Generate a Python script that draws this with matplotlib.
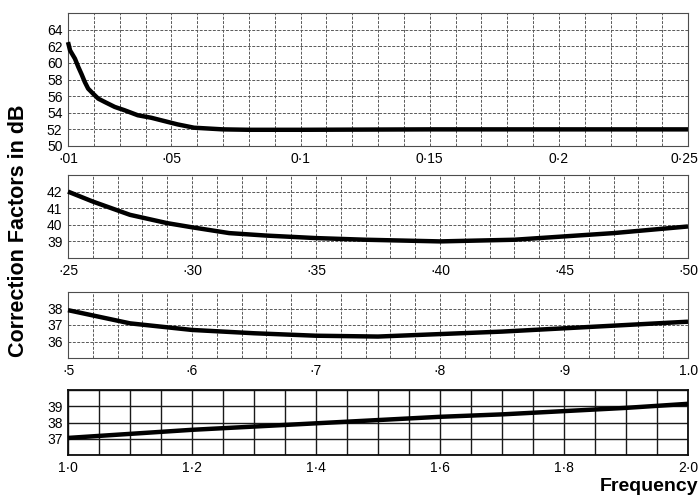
import matplotlib
matplotlib.use('Agg')
import matplotlib.pyplot as plt
from matplotlib.transforms import ScaledTranslation
import numpy as np

plt.rcParams['font.family'] = ['Liberation Sans', 'DejaVu Sans']

# panel 1: 0.01 - 0.25
f1 = [0.01, 0.0108, 0.0127, 0.014, 0.0153, 0.0165, 0.0178, 0.0197, 0.0217, 0.0242, 0.0281,
      0.0319, 0.037, 0.0422, 0.0473, 0.0524, 0.0588, 0.07, 0.08, 0.10, 0.15, 0.20, 0.25]
db1 = [62.5, 61.5, 60.5, 59.5, 58.6, 57.7, 56.9, 56.3, 55.7, 55.3, 54.7,
       54.3, 53.7, 53.4, 53.0, 52.6, 52.2, 52.0, 51.95, 51.95, 52.0, 52.0, 52.0]
xt1 = [0.01, 0.05, 0.10, 0.15, 0.20, 0.25]
xl1 = ['·01', '·05', '0·1', '0·15', '0·2', '0·25']
yt1 = [50, 52, 54, 56, 58, 60, 62, 64]

# panel 2: 0.25 - 0.50
f2 = [0.25, 0.26, 0.275, 0.29, 0.30, 0.315, 0.33, 0.35, 0.37, 0.40, 0.43, 0.45, 0.47, 0.50]
db2 = [42.0, 41.4, 40.6, 40.1, 39.85, 39.5, 39.35, 39.2, 39.1, 39.0, 39.1, 39.3, 39.5, 39.9]
xt2 = [0.25, 0.30, 0.35, 0.40, 0.45, 0.50]
xl2 = ['·25', '·30', '·35', '·40', '·45', '·50']
yt2 = [39, 40, 41, 42]

# panel 3: 0.5 - 1.0
f3 = [0.5, 0.55, 0.6, 0.65, 0.7, 0.75, 0.8, 0.85, 0.9, 0.95, 1.0]
db3 = [37.9, 37.1, 36.7, 36.5, 36.35, 36.3, 36.45, 36.6, 36.8, 37.0, 37.2]
xt3 = [0.5, 0.6, 0.7, 0.8, 0.9, 1.0]
xl3 = ['·5', '·6', '·7', '·8', '·9', '1.0']
yt3 = [36, 37, 38]

# panel 4: 1.0 - 2.0
f4 = [1.0, 1.1, 1.2, 1.3, 1.4, 1.5, 1.6, 1.7, 1.8, 1.9, 2.0]
db4 = [37.05, 37.3, 37.55, 37.75, 37.95, 38.15, 38.35, 38.5, 38.7, 38.9, 39.15]
xt4 = [1.0, 1.2, 1.4, 1.6, 1.8, 2.0]
xl4 = ['1·0', '1·2', '1·4', '1·6', '1·8', '2·0']
yt4 = [37, 38, 39]

W, H = 699, 497
fig = plt.figure(figsize=(W / 100, H / 100), dpi=100)

def box(top, bottom):
    return [68 / W, 1 - bottom / H, 620 / W, (bottom - top) / H]

panels = [
    # f, db, xlim, ylim, xticks, xlabels, yticks, xgrid step, ygrid step, top, bottom, dark
    (f1, db1, (0.01, 0.25), (50, 66), xt1, xl1, yt1, 0.01, 2, 13, 146, False),
    (f2, db2, (0.25, 0.50), (38, 43), xt2, xl2, yt2, 0.01, 1, 175, 258, False),
    (f3, db3, (0.5, 1.0), (35, 39), xt3, xl3, yt3, 0.02, 1, 292, 358, False),
    (f4, db4, (1.0, 2.0), (36, 40), xt4, xl4, yt4, 0.05, 1, 390, 455, True),
]

for f, db, xlim, ylim, xt, xl, yt, xs, ys, top, bottom, dark in panels:
    ax = fig.add_axes(box(top, bottom))
    ax.set_xlim(*xlim)
    ax.set_ylim(*ylim)
    ax.set_xticks(xt)
    ax.set_xticklabels(xl)
    ax.set_yticks(yt)
    ax.set_xticks(np.arange(xlim[0], xlim[1] + xs / 2, xs), minor=True)
    ax.set_yticks(np.arange(ylim[0], ylim[1] + ys / 2, ys), minor=True)
    ax.tick_params(which='both', length=0, labelsize=10)
    ax.tick_params(axis='y', pad=4)
    ax.tick_params(axis='x', pad=4)
    if dark:
        ax.grid(which='both', color='0.1', lw=1.0, ls='-')
        sc, sw = '0.05', 1.3
    else:
        ax.grid(which='both', color='0.35', lw=0.7, ls=(0, (3, 1.5)))
        sc, sw = '0.3', 0.8
    for s in ax.spines.values():
        s.set_color(sc)
        s.set_linewidth(sw)
    last = ax.get_xticklabels()[-1]
    last.set_ha('right')
    last.set_transform(last.get_transform() + ScaledTranslation(0.10, 0, fig.dpi_scale_trans))
    ax.plot(f, db, color='black', lw=3.2, solid_joinstyle='round', solid_capstyle='butt',
            clip_on=False, zorder=5)

fig.text(0.027, 0.535, 'Correction Factors in dB', rotation=90, ha='center', va='center',
         fontsize=15.5, fontweight='bold')
fig.text(698 / W, 1 - 491 / H, 'Frequency', ha='right', va='baseline',
         fontsize=14, fontweight='bold')

fig.savefig('out.png', dpi=100)
